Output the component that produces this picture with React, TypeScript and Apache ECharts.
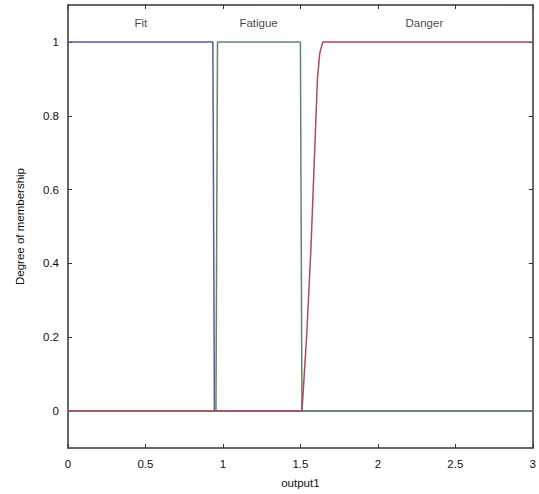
import React, { useEffect, useRef } from "react";
import * as echarts from "echarts";

const fitPoints: [number, number][] = [[0, 1], [0.935, 1], [0.945, 0], [3, 0]];
const fatiguePoints: [number, number][] = [[0, 0], [0.955, 0], [0.965, 1], [1.5, 1], [1.51, 0], [3, 0]];
const dangerPoints: [number, number][] = [[0, 0], [1.51, 0], [1.54, 0.2], [1.568, 0.44], [1.59, 0.68], [1.61, 0.9], [1.625, 0.97], [1.645, 1], [3, 1]];
const mfNames = ["Fit", "Fatigue", "Danger"];
const mfLabelX = [0.47, 1.23, 2.3];
const mfLabelY = 1.05;
const yTicks = [0, 0.2, 0.4, 0.6, 0.8, 1];
const xTicks = [0, 0.5, 1, 1.5, 2, 2.5, 3];

export default function App() {
  const ref = useRef<HTMLDivElement>(null);
  useEffect(() => {
    const chart = echarts.init(ref.current!, null, { renderer: "svg" });
    const font = "Liberation Sans, Arial, sans-serif";
    const axisLine = { show: true, onZero: false, lineStyle: { color: "#333", width: 1.5 } };
    const tick = { show: true, inside: true, length: 4, lineStyle: { color: "#333", width: 1 } };
    const txt = { color: "#111", fontSize: 11.5, fontFamily: font };
    chart.setOption({
      animation: false,
      backgroundColor: "#fff",
      grid: { left: 68, top: 5, right: 6, bottom: 45 },
      xAxis: [
        {
          type: "value", min: 0, max: 3, interval: 0.5,
          axisLine, axisTick: tick, splitLine: { show: false },
          axisLabel: { ...txt, margin: 10, formatter: (v: number) => (xTicks.includes(v) ? String(v) : "") },
          name: "output1", nameLocation: "middle", nameGap: 29,
          nameTextStyle: txt,
        },
        {
          type: "value", min: 0, max: 3, interval: 0.5, position: "top",
          axisLine, axisTick: tick, axisLabel: { show: false }, splitLine: { show: false },
        },
      ],
      yAxis: [
        {
          type: "value", min: -0.1, max: 1.1,
          axisLine, splitLine: { show: false },
          axisTick: { ...tick, customValues: yTicks },
          axisLabel: { ...txt, margin: 9, customValues: yTicks, formatter: (v: number) => String(Math.round(v * 10) / 10) },
          name: "Degree of membership", nameLocation: "middle", nameGap: 42,
          nameTextStyle: txt,
        },
        {
          type: "value", min: -0.1, max: 1.1, position: "right",
          axisLine, splitLine: { show: false },
          axisTick: { ...tick, customValues: yTicks },
          axisLabel: { show: false },
        },
      ],
      series: [
        { name: "Fit", type: "line", data: fitPoints, showSymbol: false, lineStyle: { color: "#5858a8", width: 1.5 } },
        { name: "Fatigue", type: "line", data: fatiguePoints, showSymbol: false, lineStyle: { color: "#5a8a68", width: 1.5 } },
        { name: "Danger", type: "line", data: dangerPoints, showSymbol: false, lineStyle: { color: "#b04858", width: 1.5 } },
        {
          type: "scatter", symbolSize: 0, silent: true,
          data: mfNames.map((n, i) => ({ value: [mfLabelX[i], mfLabelY], name: n })),
          label: { show: true, position: "inside", formatter: (p: any) => p.name, ...txt },
        },
      ],
    });
    return () => chart.dispose();
  }, []);
  return <div ref={ref} style={{ width: 539, height: 494, position: "absolute", left: 0, top: 0 }} />;
}
